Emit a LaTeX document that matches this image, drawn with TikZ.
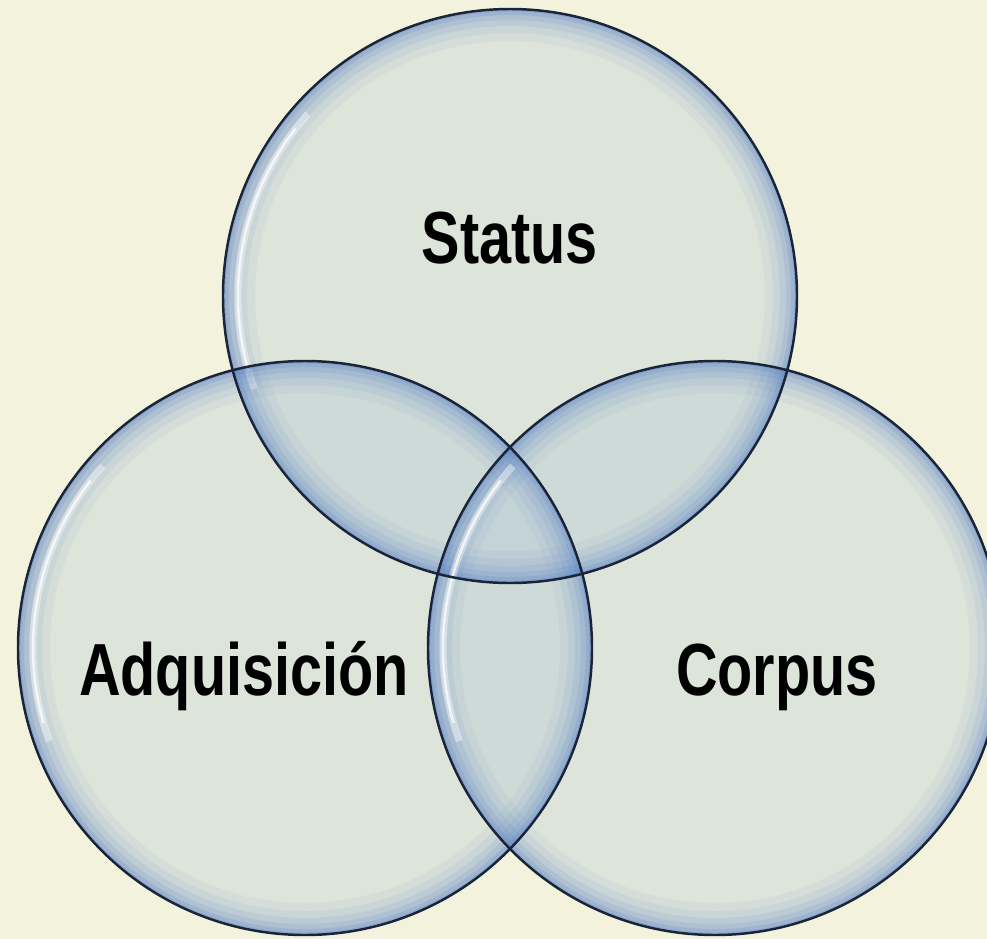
\documentclass[tikz,border=0pt]{standalone}
\usepackage{fontspec}
\newfontfamily\vennfont{Liberation Sans}[FakeStretch=0.78]
\definecolor{paper}{RGB}{243,243,221}
\definecolor{disc}{RGB}{176,198,214}
\definecolor{rim}{RGB}{80,122,196}
\definecolor{edge}{RGB}{26,36,56}

\begin{document}
\begin{tikzpicture}[x=0.01cm,y=-0.01cm]
                \tikzstyle{disc}=[fill=disc,fill opacity=0.32]
                \tikzstyle{outline}=[draw=edge,line width=0.7pt]
                \tikzstyle{vennlabel}=[anchor=base,inner sep=0pt,font=\vennfont\bfseries\fontsize{21}{24}\selectfont]
                \fill[paper] (0,0) rectangle (987,939);
                \useasboundingbox (0,0) rectangle (987,939);
                        \coordinate (C-status) at (510,296);
                        \coordinate (C-adq) at (305,648);
                        \coordinate (C-corpus) at (715,648);

                    \foreach \c in {status,adq,corpus}
                        \fill[disc] (C-\c) circle (287);
                    \foreach \c in {status,adq,corpus}{
                        \begin{scope}
                            \clip (C-\c) circle (287);
                            \foreach \w/\o in {64/0.06,48/0.08,34/0.1,22/0.13,12/0.17,5/0.22}
                                \draw[rim,line width=\w*0.01cm,opacity=\o] (C-\c) circle (287);
                            \draw[white,line width=0.07cm,opacity=0.4] (C-\c) ++(160:272) arc[start angle=160,end angle=222,radius=272];
                            \draw[white,line width=0.025cm,opacity=0.75] (C-\c) ++(164:272) arc[start angle=164,end angle=218,radius=272];
                        \end{scope}
                    }
                    \foreach \c in {status,adq,corpus}
                        \draw[outline] (C-\c) circle (287);

                        \node[vennlabel] (status) at (510,263){Status};
                        \node[vennlabel] (adq) at (244,695){Adquisición};
                        \node[vennlabel] (corpus) at (777,695){Corpus};
            \end{tikzpicture}
\end{document}
